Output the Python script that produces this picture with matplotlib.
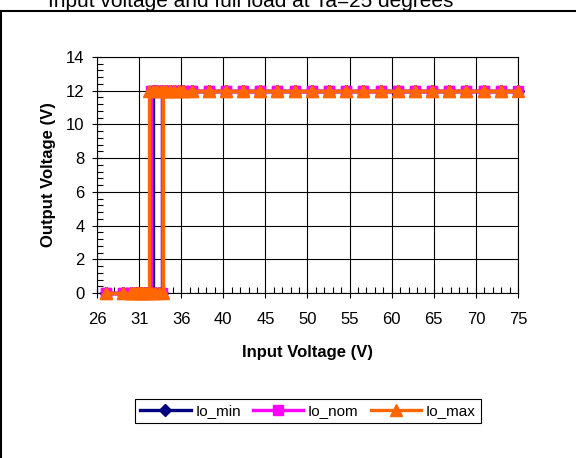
import numpy as np
import matplotlib
matplotlib.use("Agg")
import matplotlib.pyplot as plt
from matplotlib.lines import Line2D
from matplotlib.ticker import FixedLocator, MultipleLocator

plt.rcParams['font.family'] = ['Liberation Sans', 'DejaVu Sans']
plt.rcParams['font.size'] = 12

# sweep up from 27 V to 75 V, then back down to 27 V
vin_min = [27, 29, 30, 30.4, 30.8, 31.2, 31.6, 32, 32.4, 32.8, 33.2, 33.6, 33.6, 34, 34.5, 35,
           35.5, 36, 37, 39, 41, 43, 45, 47, 49, 51, 53, 55, 57, 59, 61, 63, 65, 67, 69, 71, 73, 75,
           73, 71, 69, 67, 65, 63, 61, 59, 57, 55, 53, 51, 49, 47, 45, 43, 41, 39, 37, 36, 35.5,
           35, 34.5, 34, 33.5, 33, 32.8, 32.6, 32.5, 32.5, 32.2, 31.8, 31.4, 31, 30.5, 30, 29, 27]
vout_min = [0, 0, 0, 0, 0, 0, 0, 0, 0, 0, 0, 0, 12, 12, 12, 12,
            12, 12, 12, 12, 12, 12, 12, 12, 12, 12, 12, 12, 12, 12, 12, 12, 12, 12, 12, 12, 12, 12,
            12, 12, 12, 12, 12, 12, 12, 12, 12, 12, 12, 12, 12, 12, 12, 12, 12, 12, 12, 12, 12,
            12, 12, 12, 12, 12, 12, 12, 12, 0, 0, 0, 0, 0, 0, 0, 0, 0]

vin_nom = [27, 29, 30, 30.4, 30.8, 31.2, 31.6, 32, 32.4, 32.8, 33.2, 33.6, 33.6, 34, 34.5, 35,
           35.5, 36, 37, 39, 41, 43, 45, 47, 49, 51, 53, 55, 57, 59, 61, 63, 65, 67, 69, 71, 73, 75,
           73, 71, 69, 67, 65, 63, 61, 59, 57, 55, 53, 51, 49, 47, 45, 43, 41, 39, 37, 36, 35.5,
           35, 34.5, 34, 33.5, 33, 32.8, 32.6, 32.3, 32.3, 32.0, 31.6, 31.2, 30.8, 30.4, 30, 29, 27]
vout_nom = [0, 0, 0, 0, 0, 0, 0, 0, 0, 0, 0, 0, 12, 12, 12, 12,
            12, 12, 12, 12, 12, 12, 12, 12, 12, 12, 12, 12, 12, 12, 12, 12, 12, 12, 12, 12, 12, 12,
            12, 12, 12, 12, 12, 12, 12, 12, 12, 12, 12, 12, 12, 12, 12, 12, 12, 12, 12, 12, 12,
            12, 12, 12, 12, 12, 12, 12, 12, 0, 0, 0, 0, 0, 0, 0, 0, 0]

vin_max = [27, 29, 30, 30.4, 30.8, 31.2, 31.6, 32, 32.4, 32.8, 33.2, 33.7, 33.7, 34, 34.5, 35,
           35.5, 36, 37, 39, 41, 43, 45, 47, 49, 51, 53, 55, 57, 59, 61, 63, 65, 67, 69, 71, 73, 75,
           73, 71, 69, 67, 65, 63, 61, 59, 57, 55, 53, 51, 49, 47, 45, 43, 41, 39, 37, 36, 35.5,
           35, 34.5, 34, 33.5, 33, 32.8, 32.5, 32.1, 32.1, 31.8, 31.4, 31, 30.6, 30.2, 30, 29, 27]
vout_max = [0, 0, 0, 0, 0, 0, 0, 0, 0, 0, 0, 0, 12, 12, 12, 12,
            12, 12, 12, 12, 12, 12, 12, 12, 12, 12, 12, 12, 12, 12, 12, 12, 12, 12, 12, 12, 12, 12,
            12, 12, 12, 12, 12, 12, 12, 12, 12, 12, 12, 12, 12, 12, 12, 12, 12, 12, 12, 12, 12,
            12, 12, 12, 12, 12, 12, 12, 12, 0, 0, 0, 0, 0, 0, 0, 0, 0]

x_tick_labels = ['26', '31', '36', '40', '45', '50', '55', '60', '65', '70', '75']

fig = plt.figure(figsize=(5.76, 4.58), dpi=100)
W, H = 576, 458
ax = fig.add_axes([97 / W, 1 - 293 / H, 421 / W, 236 / H])

ax.plot(vin_min, vout_min, '-', color='#000080', lw=2.4, marker='D', ms=6,
        mfc='#000080', mec='#000080', label='Io_min', clip_on=False, zorder=3)
ax.plot(vin_nom, vout_nom, '-', color='#FF00FF', lw=2.4, marker='s', ms=7,
        mfc='#FF00FF', mec='#FF00FF', label='Io_nom', clip_on=False, zorder=4)
ax.plot(vin_max, vout_max, '-', color='#FF6600', lw=2.4, marker='^', ms=8.5,
        mfc='#FF6600', mec='#FF6600', label='Io_max', clip_on=False, zorder=5)

ax.set_xlim(26, 75)
ax.set_ylim(0, 14)
xt = np.linspace(26, 75, 11)
ax.xaxis.set_major_locator(FixedLocator(xt))
ax.set_xticklabels(x_tick_labels)
ax.xaxis.set_minor_locator(FixedLocator(np.linspace(26, 75, 51)))
ax.yaxis.set_major_locator(MultipleLocator(2))
ax.yaxis.set_minor_locator(MultipleLocator(0.4))

ax.grid(True, which='major', color='black', lw=0.8)
ax.tick_params(which='major', direction='inout', length=7, width=0.8, colors='black',
               labelsize=12)
ax.tick_params(axis='x', which='major', pad=10)
ax.tick_params(axis='y', which='major', pad=5.5)
ax.tick_params(which='minor', direction='in', length=4, width=0.8)
for s in ax.spines.values():
    s.set_color('black')
    s.set_linewidth(0.8)

ax.set_xlabel('Input Voltage (V)', fontweight='bold', fontsize=12, labelpad=13)
ax.set_ylabel('Output Voltage (V)', fontweight='bold', fontsize=12, labelpad=7)

leg = fig.legend(loc='center', bbox_to_anchor=(308 / W, 1 - 411 / H), ncol=3,
                 frameon=True, fancybox=False, edgecolor='black', framealpha=1,
                 handlelength=3.3, columnspacing=0.8, handletextpad=0.3,
                 borderpad=0.35, fontsize=11)
leg.get_frame().set_linewidth(0.8)

# title cut off at the top edge of the image
fig.text(48 / W, 1 - 7 / H, 'Input voltage and full load at Ta=25 degrees',
         ha='left', va='baseline', fontsize=15)

# chart-area border (top and left edges visible)
fig.add_artist(Line2D([0, 1], [1 - 11 / H, 1 - 11 / H], transform=fig.transFigure,
                      color='black', lw=1.5))
fig.add_artist(Line2D([1 / W, 1 / W], [0, 1 - 11 / H], transform=fig.transFigure,
                      color='black', lw=1.5))

fig.savefig('out.png', dpi=100, facecolor='white')
